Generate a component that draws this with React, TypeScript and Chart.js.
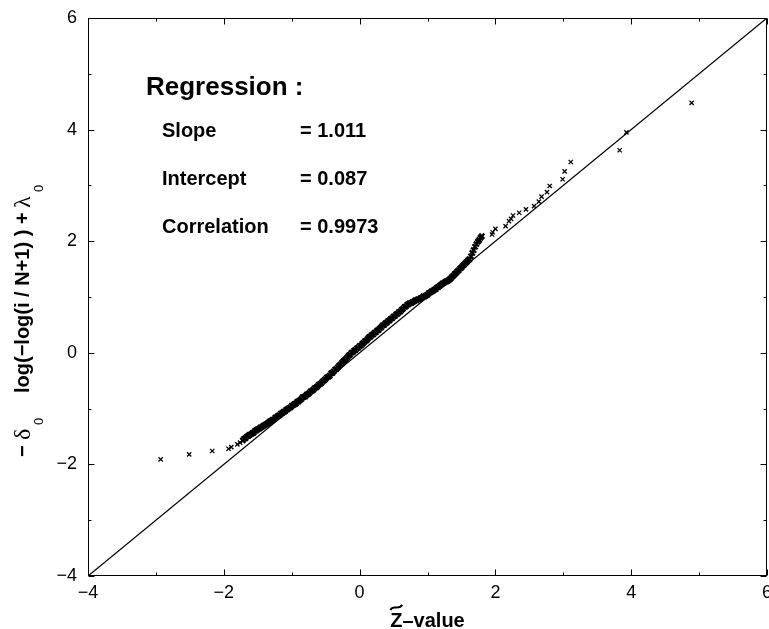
import React, { useEffect, useRef } from "react";
import { Chart, registerables } from "chart.js";
Chart.register(...registerables);

const FONT = "'Liberation Sans', Arial, sans-serif";

const axisMin = -4;
const axisMax = 6;
const tickStep = 2;

// Z-value (x) and -delta0 log(-log(i/N+1)) + lambda0 (y)
const lowerTailX = [-2.93, -2.51, -2.17, -1.93, -1.89, -1.8, -1.76];
const lowerTailY = [-1.91, -1.82, -1.76, -1.72, -1.69, -1.64, -1.61];
const bodyX = [
  -1.72, -1.7, -1.68, -1.66, -1.64, -1.62, -1.6, -1.58, -1.56, -1.54, -1.52, -1.5, -1.48, -1.46, -1.44, -1.42, -1.4, -1.38, -1.36,
  -1.34, -1.32, -1.3, -1.28, -1.26, -1.24, -1.22, -1.2, -1.18, -1.16, -1.14, -1.12, -1.1, -1.08, -1.06, -1.04, -1.02, -1.0,
  -0.98, -0.96, -0.94, -0.92, -0.9, -0.88, -0.86, -0.84, -0.82, -0.8, -0.78, -0.76, -0.74, -0.72, -0.7, -0.68, -0.66,
  -0.64, -0.62, -0.6, -0.58, -0.56, -0.54, -0.52, -0.5, -0.48, -0.46, -0.44, -0.42, -0.4, -0.38, -0.36, -0.34, -0.32, -0.3, -0.28, -0.26, -0.24, -0.22, -0.2, -0.18,
  -0.16, -0.14, -0.12, -0.1, -0.08, -0.06, -0.04, -0.02, 0.0, 0.02, 0.04, 0.06, 0.08,
  0.1, 0.12, 0.14, 0.16, 0.18, 0.2, 0.22, 0.24, 0.26, 0.28, 0.3, 0.32, 0.34, 0.36, 0.38, 0.4, 0.42, 0.44,
  0.46, 0.48, 0.5, 0.52, 0.54, 0.56, 0.58, 0.6, 0.62, 0.64, 0.66, 0.68, 0.7, 0.72,
  0.74, 0.76, 0.78, 0.8, 0.82, 0.84, 0.86, 0.88, 0.9, 0.92, 0.94, 0.96, 0.98, 1.0, 1.02, 1.04, 1.06, 1.08, 1.1, 1.12, 1.14, 1.16, 1.18, 1.2, 1.22,
  1.24, 1.26, 1.28, 1.3, 1.32, 1.34, 1.36, 1.38, 1.4, 1.42, 1.44, 1.46, 1.48, 1.5, 1.52, 1.54, 1.56, 1.58, 1.6, 1.62, 1.64, 1.66, 1.68, 1.7, 1.72, 1.74, 1.76, 1.78, 1.8,
];
const bodyY = [
  -1.57, -1.54, -1.53, -1.5, -1.49, -1.47, -1.46, -1.44, -1.43, -1.4, -1.39, -1.37, -1.36, -1.34, -1.33, -1.31, -1.3, -1.28, -1.27,
  -1.25, -1.23, -1.22, -1.2, -1.19, -1.16, -1.15, -1.13, -1.12, -1.09, -1.08, -1.06, -1.05, -1.02, -1.01, -0.99, -0.98, -0.95,
  -0.94, -0.92, -0.91, -0.88, -0.87, -0.85, -0.83, -0.8, -0.79, -0.78, -0.75, -0.74, -0.72, -0.69, -0.68, -0.66, -0.63,
  -0.62, -0.6, -0.57, -0.56, -0.54, -0.51, -0.49, -0.47, -0.44, -0.43, -0.41, -0.37, -0.36, -0.33, -0.3, -0.29, -0.26, -0.23, -0.21, -0.18, -0.15, -0.13, -0.11, -0.08,
  -0.05, -0.03, 0.0, 0.01, 0.04, 0.05, 0.08, 0.09, 0.12, 0.13, 0.16, 0.18, 0.21,
  0.22, 0.25, 0.28, 0.29, 0.32, 0.33, 0.36, 0.37, 0.4, 0.41, 0.44, 0.46, 0.49, 0.5, 0.53, 0.54, 0.57, 0.58,
  0.61, 0.62, 0.65, 0.66, 0.69, 0.7, 0.73, 0.74, 0.77, 0.79, 0.82, 0.83, 0.86, 0.87,
  0.89, 0.89, 0.91, 0.92, 0.94, 0.94, 0.96, 0.96, 0.98, 0.99, 1.01, 1.01, 1.03, 1.04, 1.07, 1.08, 1.1, 1.11, 1.13, 1.14, 1.17, 1.18, 1.2, 1.22, 1.24,
  1.25, 1.27, 1.28, 1.29, 1.31, 1.33, 1.36, 1.38, 1.41, 1.43, 1.46, 1.48, 1.51, 1.53, 1.56, 1.58, 1.61, 1.63, 1.66, 1.68, 1.73, 1.79, 1.84, 1.9, 1.95, 1.99, 2.02, 2.06, 2.09,
];
const upperTailX = [1.95, 1.96, 2.0, 2.15, 2.2, 2.23, 2.26, 2.35, 2.45, 2.57, 2.64, 2.68, 2.76, 2.8, 2.99, 3.02, 3.11, 3.83, 3.93, 4.89];
const upperTailY = [2.12, 2.16, 2.22, 2.27, 2.36, 2.4, 2.46, 2.51, 2.57, 2.63, 2.71, 2.8, 2.88, 2.99, 3.11, 3.25, 3.42, 3.63, 3.95, 4.48];

const refLineX = [-4, 6];
const refLineY = [-4, 6];

const regressionTitle = "Regression :";
const regressionNames = ["Slope", "Intercept", "Correlation"];
const regressionValues = ["= 1.011", "= 0.087", "= 0.9973"];

function pairs(xs: number[], ys: number[]) {
  const n = Math.min(xs.length, ys.length);
  const out: { x: number; y: number }[] = [];
  for (let i = 0; i < n; i++) out.push({ x: xs[i], y: ys[i] });
  return out;
}

const fmt = (v: number) => (v < 0 ? "\u2212" + Math.abs(v) : String(v));

const decorPlugin = {
  id: "decor",
  afterDraw(chart: any) {
    const { ctx, chartArea: ca, scales } = chart;
    const xs = scales.x;
    const ys = scales.y;
    ctx.save();
    ctx.strokeStyle = "#000";
    ctx.lineWidth = 1;
    const L = Math.round(ca.left) + 0.5;
    const R = Math.round(ca.right) - 0.5;
    const T = Math.round(ca.top) + 0.5;
    const B = Math.round(ca.bottom) - 0.5;
    ctx.strokeRect(L, T, R - L, B - T);
    ctx.beginPath();
    for (let v = axisMin; v <= axisMax; v++) {
      const len = v % 2 === 0 ? 6 : 3;
      const px = Math.round(xs.getPixelForValue(v)) + 0.5;
      ctx.moveTo(px, B); ctx.lineTo(px, B - len);
      ctx.moveTo(px, T); ctx.lineTo(px, T + len);
      const py = Math.round(ys.getPixelForValue(v)) + 0.5;
      ctx.moveTo(L, py); ctx.lineTo(L + len, py);
      ctx.moveTo(R, py); ctx.lineTo(R - len, py);
    }
    ctx.stroke();

    // regression text
    ctx.fillStyle = "#000";
    ctx.textBaseline = "alphabetic";
    ctx.textAlign = "left";
    ctx.font = `bold 26px ${FONT}`;
    ctx.fillText(regressionTitle, 146, 95);
    ctx.font = `bold 20px ${FONT}`;
    regressionNames.forEach((n, i) => {
      const y = 137 + i * 48;
      ctx.fillText(n, 162, y);
      ctx.fillText(regressionValues[i], 300, y);
    });

    // x title
    const cx = (ca.left + ca.right) / 2;
    ctx.font = `bold 20px ${FONT}`;
    ctx.textAlign = "center";
    const xt = "Z\u2013value";
    ctx.fillText(xt, cx, 627);
    const w = ctx.measureText(xt).width;
    const zw = ctx.measureText("Z").width;
    const zx = cx - w / 2 + zw / 2;
    ctx.lineWidth = 2;
    ctx.beginPath();
    ctx.moveTo(zx - 6, 610);
    ctx.bezierCurveTo(zx - 3, 604, zx + 1, 611, zx + 6, 605);
    ctx.stroke();

    // y title (rotated)
    ctx.save();
    ctx.rotate(-Math.PI / 2);
    ctx.textAlign = "left";
    ctx.font = `bold 20px ${FONT}`;
    ctx.fillText("\u2212", -457, 29);
    ctx.font = `24px 'Liberation Serif', serif`;
    ctx.fillText("\u03b4", -440, 30);
    ctx.font = `13px ${FONT}`;
    ctx.fillText("0", -425, 43);
    ctx.font = `bold 20px ${FONT}`;
    ctx.fillText("log(\u2212log(i / N+1) ) +", -393, 29);
    ctx.font = `24px 'Liberation Serif', serif`;
    ctx.fillText("\u03bb", -208, 30);
    ctx.font = `13px ${FONT}`;
    ctx.fillText("0", -192, 43);
    ctx.restore();

    ctx.restore();
  },
};

export default function App() {
  const ref = useRef<HTMLCanvasElement>(null);
  useEffect(() => {
    document.body.style.margin = "0";
    const canvas = ref.current!;
    const chart = new Chart(canvas, {
      type: "scatter",
      data: {
        datasets: [
          {
            type: "line",
            data: pairs(refLineX, refLineY),
            borderColor: "#000",
            borderWidth: 1.3,
            pointRadius: 0,
            fill: false,
          } as any,
          {
            data: pairs(bodyX, bodyY),
            pointStyle: "crossRot",
            pointRadius: 3.6,
            borderColor: "#000",
            backgroundColor: "#000",
            pointBorderWidth: 2.2,
            borderWidth: 2.2,
          } as any,
          {
            data: [...pairs(lowerTailX, lowerTailY), ...pairs(upperTailX, upperTailY)],
            pointStyle: "crossRot",
            pointRadius: 3,
            borderColor: "#000",
            backgroundColor: "#000",
            pointBorderWidth: 1.3,
            borderWidth: 1.3,
          } as any,
        ],
      },
      options: {
        responsive: false,
        animation: false,
        events: [],
        layout: { autoPadding: false, padding: { top: 18, right: 2, left: 0, bottom: 0 } },
        plugins: { legend: { display: false }, tooltip: { enabled: false } },
        scales: {
          x: {
            type: "linear",
            min: axisMin,
            max: axisMax,
            grid: { display: false, tickLength: 0 },
            border: { display: false },
            ticks: {
              stepSize: tickStep,
              color: "#000",
              padding: 6,
              maxRotation: 0,
              font: { family: FONT, size: 18 },
              callback: (v: any) => fmt(Number(v)),
            },
            afterFit: (s: any) => {
              s.height = 53;
              s.paddingLeft = 0;
              s.paddingRight = 0;
            },
          },
          y: {
            type: "linear",
            min: axisMin,
            max: axisMax,
            grid: { display: false, tickLength: 0 },
            border: { display: false },
            ticks: {
              stepSize: tickStep,
              color: "#000",
              padding: 11,
              font: { family: FONT, size: 18 },
              callback: (v: any) => fmt(Number(v)),
            },
            afterFit: (s: any) => {
              s.width = 88;
              s.paddingTop = 0;
              s.paddingBottom = 0;
            },
          },
        },
      },
      plugins: [decorPlugin],
    });
    return () => chart.destroy();
  }, []);
  return <canvas ref={ref} width={769} height={629} style={{ display: "block" }} />;
}
